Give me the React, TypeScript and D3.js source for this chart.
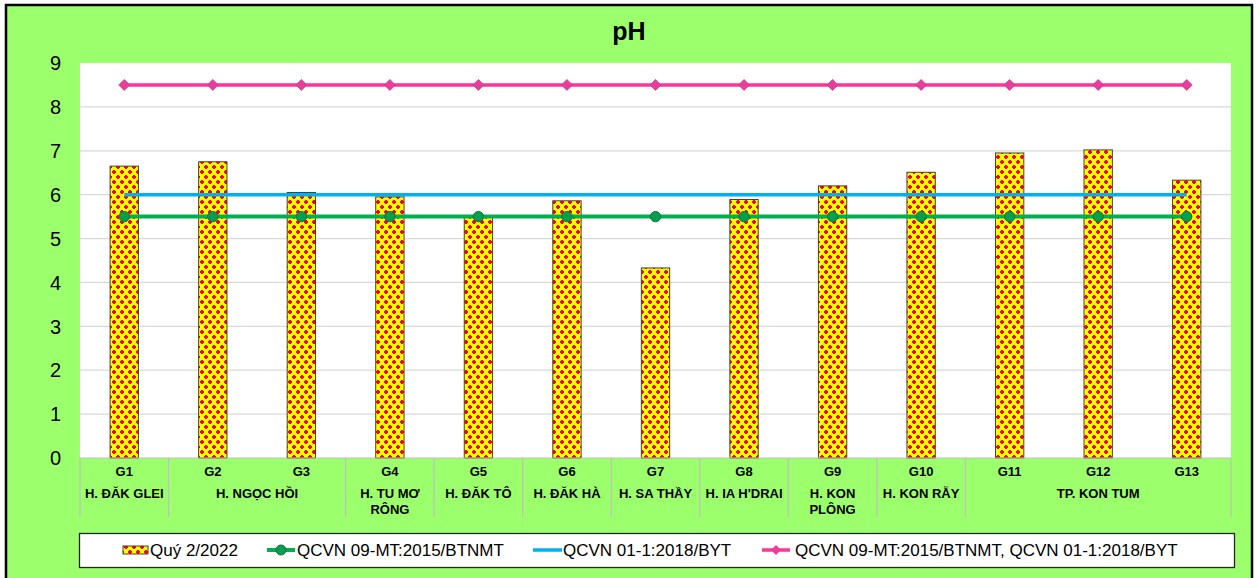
import React from 'react';
import { scaleBand, scaleLinear, line } from 'd3';

const codes = ['G1', 'G2', 'G3', 'G4', 'G5', 'G6', 'G7', 'G8', 'G9', 'G10', 'G11', 'G12', 'G13'];
const ph = [6.65, 6.75, 6.05, 5.95, 5.48, 5.86, 4.33, 5.89, 6.2, 6.51, 6.95, 7.02, 6.33];
const btnmt = 5.5;
const byt = 6.0;
const combined = 8.5;
const groups = [
  { name: ['H. ĐĂK GLEI'], from: 0, to: 0 },
  { name: ['H. NGỌC HỒI'], from: 1, to: 2 },
  { name: ['H. TU MƠ', 'RÔNG'], from: 3, to: 3 },
  { name: ['H. ĐĂK TÔ'], from: 4, to: 4 },
  { name: ['H. ĐĂK HÀ'], from: 5, to: 5 },
  { name: ['H. SA THẦY'], from: 6, to: 6 },
  { name: ["H. IA H'DRAI"], from: 7, to: 7 },
  { name: ['H. KON', 'PLÔNG'], from: 8, to: 8 },
  { name: ['H. KON RẪY'], from: 9, to: 9 },
  { name: ['TP. KON TUM'], from: 10, to: 12 },
];
const yTicks = [0, 1, 2, 3, 4, 5, 6, 7, 8, 9];
const legendNames = ['Quý 2/2022', 'QCVN 09-MT:2015/BTNMT', 'QCVN 01-1:2018/BYT', 'QCVN 09-MT:2015/BTNMT, QCVN 01-1:2018/BYT'];

const W = 1259, H = 578;
const plot = { left: 80, right: 1231, top: 63, bottom: 458 };
const font = 'Liberation Sans, Arial, sans-serif';
const GREEN = '#00B050', BLUE = '#00B0F0', PINK = '#FF3399';

export default function App() {
  const x = scaleBand().domain(codes).range([plot.left, plot.right]).padding(0);
  const y = scaleLinear().domain([0, 9]).range([plot.bottom, plot.top]);
  const bw = x.bandwidth() * 0.32;
  const cx = (c: string) => (x(c) as number) + x.bandwidth() / 2;
  const flat = (v: number) => line<string>().x(cx).y(() => y(v))(codes) as string;

  const diamond = (px: number, py: number, s: number) =>
    `M${px},${py - s}L${px + s},${py}L${px},${py + s}L${px - s},${py}Z`;

  // separators between groups
  const seps = [plot.left, ...groups.map((g) => (x(codes[g.to]) as number) + x.bandwidth())];

  const legendY = 550;
  const legendItems = [
    { x: 123, tx: 150 },
    { x: 267, tx: 297 },
    { x: 533, tx: 563 },
    { x: 762, tx: 795 },
  ];

  // small round-ish red dot, 4px
  const dot = (ox: number, oy: number) => (
    <g fill="#FF0000">
      <rect x={ox} y={oy + 1} width={4} height={2} />
      <rect x={ox + 1} y={oy} width={2} height={4} />
    </g>
  );

  return (
    <svg width={W} height={H} style={{ position: 'absolute', left: 0, top: 0 }} fontFamily={font}>
      <defs>
        <pattern id="dots" width={8} height={10} patternUnits="userSpaceOnUse">
          <rect width={8} height={10} fill="#FFFF00" />
          {dot(0, 0)}
          {dot(4, 5)}
        </pattern>
      </defs>
      <rect x={6} y={5} width={1246} height={H + 10} fill="#9CFF6C" stroke="#000" strokeWidth={2.5} />
      <text x={629} y={40} textAnchor="middle" fontSize={25} fontWeight="bold">pH</text>

      <rect x={plot.left} y={plot.top} width={plot.right - plot.left} height={plot.bottom - plot.top} fill="#fff" />
      {yTicks.map((t) => (
        <g key={t}>
          {t > 0 && t < 9 && (
            <line x1={plot.left} x2={plot.right} y1={y(t)} y2={y(t)} stroke="#D9D9D9" strokeWidth={1.2} />
          )}
          <text x={61} y={y(t)} dy="0.36em" textAnchor="end" fontSize={20}>{t}</text>
        </g>
      ))}

      {codes.map((c, i) => (
        <rect key={c} x={cx(c) - bw / 2} y={y(ph[i])} width={bw} height={y(0) - y(ph[i])}
          fill="url(#dots)" stroke="#404040" strokeWidth={1} />
      ))}

      <line x1={plot.left} x2={plot.right} y1={y(0)} y2={y(0)} stroke="#BFBFBF" strokeWidth={1.2} />
      {seps.map((s, i) => (
        <line key={i} x1={s} x2={s} y1={y(0)} y2={517} stroke="#BFBFBF" strokeWidth={1.2} />
      ))}
      {codes.map((c) => (
        <text key={c} x={cx(c)} y={471} dy="0.35em" textAnchor="middle" fontSize={13} fontWeight="bold">{c}</text>
      ))}
      {groups.map((g) => {
        const mid = ((x(codes[g.from]) as number) + (x(codes[g.to]) as number) + x.bandwidth()) / 2;
        return g.name.map((n, k) => (
          <text key={n} x={mid} y={493 + k * 16} dy="0.35em" textAnchor="middle" fontSize={13} fontWeight="bold">{n}</text>
        ));
      })}

      <path d={flat(byt)} stroke={BLUE} strokeWidth={3.5} fill="none" />
      <path d={flat(btnmt)} stroke={GREEN} strokeWidth={4} fill="none" />
      {codes.map((c) => (
        <circle key={c} cx={cx(c)} cy={y(btnmt)} r={5.2} fill="#00A050" stroke="#1F6B3A" strokeWidth={1} />
      ))}
      <path d={flat(combined)} stroke={PINK} strokeWidth={3.5} fill="none" />
      {codes.map((c) => (
        <path key={c} d={diamond(cx(c), y(combined), 5.5)} fill="#E83E9A" stroke="#C0409A" strokeWidth={0.8} />
      ))}

      <rect x={79.5} y={533.5} width={1155} height={34} fill="#fff" stroke="#262626" strokeWidth={1.3} />
      <rect x={legendItems[0].x} y={legendY - 4} width={25} height={8} fill="url(#dots)" stroke="#404040" strokeWidth={1} />
      <line x1={legendItems[1].x} x2={legendItems[1].x + 28} y1={legendY} y2={legendY} stroke={GREEN} strokeWidth={4} />
      <circle cx={legendItems[1].x + 14} cy={legendY} r={5} fill="#00A050" stroke="#1F6B3A" strokeWidth={1} />
      <line x1={legendItems[2].x} x2={legendItems[2].x + 29} y1={legendY} y2={legendY} stroke={BLUE} strokeWidth={3.5} />
      <line x1={legendItems[3].x} x2={legendItems[3].x + 28} y1={legendY} y2={legendY} stroke={PINK} strokeWidth={3.5} />
      <path d={diamond(legendItems[3].x + 14, legendY, 5)} fill="#E83E9A" />
      {legendNames.map((n, i) => (
        <text key={n} x={legendItems[i].tx} y={legendY} dy="0.36em" fontSize={17}>{n}</text>
      ))}
    </svg>
  );
}
